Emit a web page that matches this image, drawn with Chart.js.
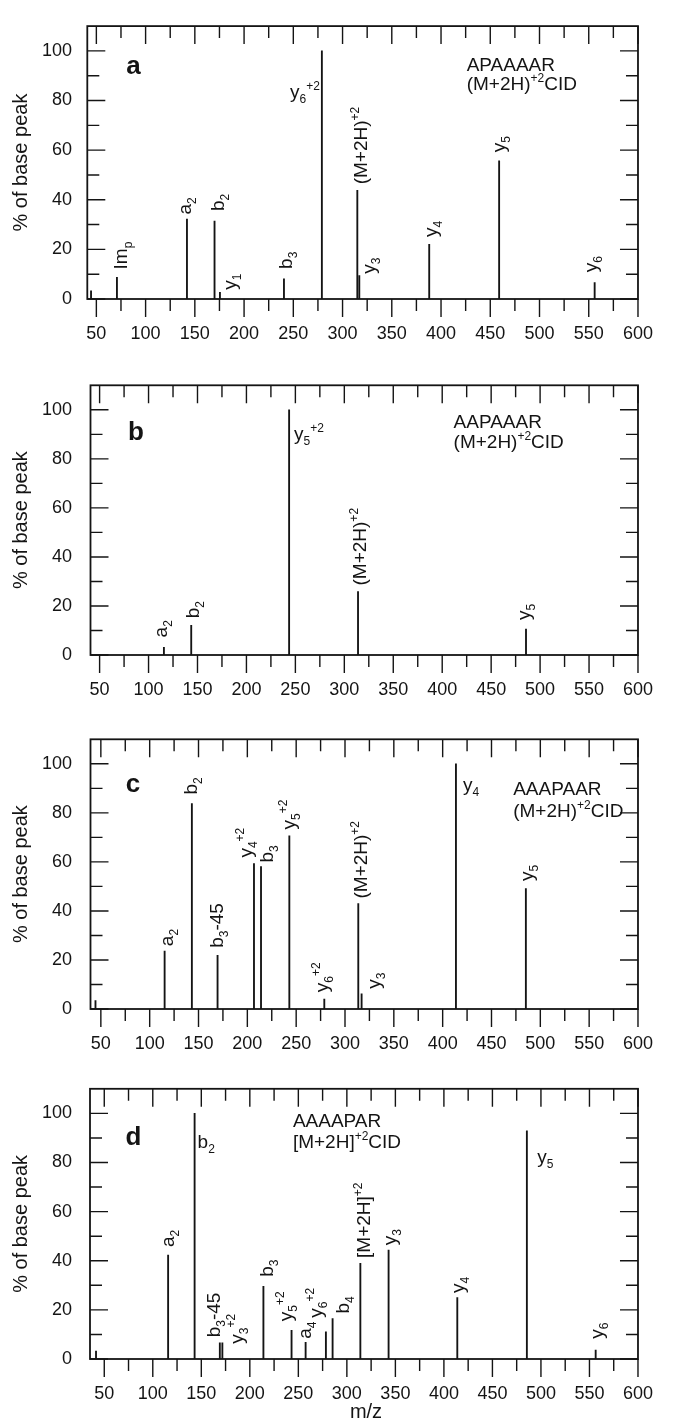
<!DOCTYPE html>
<html>
<head>
<meta charset="utf-8">
<title>CID spectra</title>
<script src="https://cdn.jsdelivr.net/npm/chart.js@4.4.0/dist/chart.umd.min.js"></script>
<style>
  html, body { margin: 0; padding: 0; background: #fff; }
  #wrap { position: relative; width: 677px; height: 1423px; overflow: hidden; }
  .panel { position: absolute; left: 0; width: 677px; }
</style>
</head>
<body>
<div id="wrap">
  <div class="panel" style="top:0;height:356px"><canvas id="spec-a"></canvas></div>
  <div class="panel" style="top:356px;height:354px"><canvas id="spec-b"></canvas></div>
  <div class="panel" style="top:710px;height:350px"><canvas id="spec-c"></canvas></div>
  <div class="panel" style="top:1060px;height:363px"><canvas id="spec-d"></canvas></div>
</div>
<script>
// ---- AXIS TICKS ----
const X_TICKS = [50, 100, 150, 200, 250, 300, 350, 400, 450, 500, 550, 600];
const X_MINOR = [75, 125, 175, 225, 275, 325, 375, 425, 475, 525, 575];
const Y_TICKS = [0, 20, 40, 60, 80, 100];
const Y_MINOR = [10, 30, 50, 70, 90];

// ---- PANEL a : APAAAAR ----
const A_MZ  = [44.6, 70.9, 142, 170, 175.5, 240.5, 279, 315, 317, 388, 459, 556];
const A_INT = [3.3, 8.7, 32.2, 31.4, 2.7, 8.1, 100, 43.8, 9.4, 22, 55.7, 6.6];
const A_LABELS = [
  { p: 1,  t: 'Im_p', dx: 4, dy: 8 },
  { p: 2,  t: 'a_2', dx: -1, dy: 4.5 },
  { p: 3,  t: 'b_2', dx: 2.5, dy: 10 },
  { p: 4,  t: 'y_1', dx: 11.5, dy: 2.5 },
  { p: 5,  t: 'b_3', dx: 1.5, dy: 10 },
  { p: 6,  t: 'y_6^{+2}', h: 'right', dx: -2, y: 81 },
  { p: 7,  t: '(M+2H)^{+2}', dx: 3, dy: 6 },
  { p: 8,  t: 'y_3', dx: 11, dy: 2 },
  { p: 9,  t: 'y_4', dx: 2.5, dy: 7.5 },
  { p: 10, t: 'y_5', dx: 1, dy: 8.5 },
  { p: 11, t: 'y_6', dx: -2.5, dy: 10.5 },
];

// ---- PANEL b : AAPAAAR ----
const B_MZ  = [115.7, 143.6, 243.6, 314, 485.6];
const B_INT = [3.1, 12.1, 100, 25.9, 10.6];
const B_LABELS = [
  { p: 0, t: 'a_2', dx: -2, dy: 10 },
  { p: 1, t: 'b_2', dx: 1, dy: 7 },
  { p: 2, t: 'y_5^{+2}', h: 'left', dx: 5, y: 87.6 },
  { p: 3, t: '(M+2H)^{+2}', dx: 1, dy: 6 },
  { p: 4, t: 'y_5', dx: -1.5, dy: 9 },
];

// ---- PANEL c : AAAPAAR ----
const C_MZ  = [44.5, 115.3, 143.2, 169.5, 206.8, 214, 243, 278.8, 313.6, 317, 413.6, 485.2];
const C_INT = [3.4, 23.6, 83.8, 21.9, 59.3, 58.1, 70.6, 4.0, 43, 6.2, 100, 49.1];
const C_LABELS = [
  { p: 1,  t: 'a_2', dx: 3, dy: 5 },
  { p: 2,  t: 'b_2', dx: -1, dy: 9 },
  { p: 3,  t: 'b_3-45', dx: -1, dy: 7.5 },
  { p: 4,  t: 'y_4^{+2}', dx: -7, dy: 6 },
  { p: 5,  t: 'b_3', dx: 5.5, dy: 4 },
  { p: 6,  t: 'y_5^{+2}', dx: 0.5, dy: 6.5 },
  { p: 7,  t: 'y_6^{+2}', dx: -1.5, dy: 7 },
  { p: 8,  t: '(M+2H)^{+2}', dx: 2, dy: 5 },
  { p: 9,  t: 'y_3', dx: 13.5, dy: 5 },
  { p: 10, t: 'y_4', h: 'left', dx: 7, y: 88.8 },
  { p: 11, t: 'y_5', dx: 2, dy: 7.5 },
];

// ---- PANEL d : AAAAPAR ----
const D_MZ  = [41.5, 115.8, 143.1, 169.1, 171.7, 214, 243, 257.5, 278.4, 285.3, 313.9, 343, 413.8, 485.5, 556.4];
const D_INT = [3.2, 42.3, 100, 6.6, 6.6, 29.6, 11.7, 6.8, 11.1, 16.5, 38.9, 44.3, 25, 92.9, 3.6];
const D_LABELS = [
  { p: 1,  t: 'a_2', dx: 1, dy: 8 },
  { p: 2,  t: 'b_2', h: 'left', dx: 3, y: 86.1 },
  { p: 3,  t: 'b_3-45', dx: -6, dy: 5.5 },
  { p: 4,  t: 'y_3^{+2}', dx: 15.5, dy: -1 },
  { p: 5,  t: 'b_3', dx: 3, dy: 9.5 },
  { p: 6,  t: 'y_5^{+2}', dx: -4.5, dy: 9 },
  { p: 7,  t: 'a_4', dx: 0, dy: 3.5 },
  { p: 8,  t: 'y_6^{+2}', dx: -8.5, dy: 14 },
  { p: 9,  t: 'b_4', dx: 10, dy: 5 },
  { p: 10, t: '[M+2H]^{+2}', dx: 3.5, dy: 5.5 },
  { p: 11, t: 'y_3', dx: 2.5, dy: 5 },
  { p: 12, t: 'y_4', dx: 2, dy: 4.5 },
  { p: 13, t: 'y_5', h: 'left', dx: 10.5, y: 79.7 },
  { p: 14, t: 'y_6', dx: 2, dy: 11.5 },
];

// ---- PANEL LAYOUT ----
const PANELS = [
  { id: 'spec-a', h: 356, left: 87.3, right: 656.7, xmin: 40.8, mz: A_MZ, inten: A_INT, labels: A_LABELS,
    letter: 'a', letterAt: [80.3, 90.6], seq: ['APAAAAR', '(M+2H)^{+2}CID'], seqAt: [426, 91.9, 84.2] },
  { id: 'spec-b', h: 354, left: 90.5, right: 659.5, xmin: 40.7, mz: B_MZ, inten: B_INT, labels: B_LABELS,
    letter: 'b', letterAt: [78.9, 87.6], seq: ['AAPAAAR', '(M+2H)^{+2}CID'], seqAt: [411.6, 92.6, 84.4] },
  { id: 'spec-c', h: 350, left: 90.5, right: 661, xmin: 39.4, mz: C_MZ, inten: C_INT, labels: C_LABELS,
    letter: 'c', letterAt: [75.5, 88.4], seq: ['AAAPAAR', '(M+2H)^{+2}CID'], seqAt: [472.2, 87.2, 78.4] },
  { id: 'spec-d', h: 363, left: 90, right: 661.7, xmin: 35.3, mz: D_MZ, inten: D_INT, labels: D_LABELS,
    letter: 'd', letterAt: [72, 87.2], seq: ['AAAAPAR', '[M+2H]^{+2}CID'], seqAt: [244.4, 94.5, 86.1], xTitle: 'm/z' },
];

const FONT = '"Liberation Sans", Arial, Helvetica, sans-serif';
const MAIN_FONT  = '19px ' + FONT;
const SMALL_FONT = '12px ' + FONT;
const INK = '#141414';

// ---- RICH TEXT (sub/superscripts) ----
function parseRich(str) {
  const parts = [];
  let buf = '', i = 0;
  while (i < str.length) {
    const c = str[i];
    if (c === '_' || c === '^') {
      if (buf) { parts.push({ s: buf, k: 'n' }); buf = ''; }
      let s;
      if (str[i + 1] === '{') { const j = str.indexOf('}', i); s = str.slice(i + 2, j); i = j + 1; }
      else { s = str[i + 1]; i += 2; }
      parts.push({ s, k: c === '_' ? 'sub' : 'sup' });
    } else { buf += c; i++; }
  }
  if (buf) parts.push({ s: buf, k: 'n' });
  return parts;
}

function richWidth(ctx, parts) {
  let w = 0;
  parts.forEach(p => { ctx.font = p.k === 'n' ? MAIN_FONT : SMALL_FONT; w += ctx.measureText(p.s).width; });
  return w;
}

function drawRich(ctx, parts, x, y) {
  let cx = x;
  parts.forEach(p => {
    ctx.font = p.k === 'n' ? MAIN_FONT : SMALL_FONT;
    const off = p.k === 'sub' ? 5 : p.k === 'sup' ? -8 : 0;
    ctx.fillText(p.s, cx, y + off);
    cx += ctx.measureText(p.s).width;
  });
}

// ---- FRAME, TICKS, ANNOTATIONS ----
function makeSpecPlugin(panel) {
  return {
    id: 'specDecor',
    afterDatasetsDraw(chart) {
      const ctx = chart.ctx;
      const xs = chart.scales.x, ys = chart.scales.y;
      const a = chart.chartArea;
      ctx.save();
      ctx.strokeStyle = INK;
      ctx.fillStyle = INK;

      // tick marks: inward on top/left/right, outward on bottom
      ctx.lineWidth = 1.4;
      ctx.beginPath();
      const xTick = (v, len) => {
        const px = xs.getPixelForValue(v);
        ctx.moveTo(px, a.top); ctx.lineTo(px, a.top + len);
        ctx.moveTo(px, a.bottom); ctx.lineTo(px, a.bottom + len);
      };
      const yTick = (v, len) => {
        const py = ys.getPixelForValue(v);
        ctx.moveTo(a.left, py); ctx.lineTo(a.left + len, py);
        ctx.moveTo(a.right, py); ctx.lineTo(a.right - len, py);
      };
      X_TICKS.forEach(v => xTick(v, 18));
      X_MINOR.forEach(v => xTick(v, 12));
      Y_TICKS.forEach(v => yTick(v, 18));
      Y_MINOR.forEach(v => yTick(v, 12));
      ctx.stroke();

      // frame
      ctx.lineWidth = 1.8;
      ctx.strokeRect(a.left, a.top, a.right - a.left, a.bottom - a.top);

      // peak labels
      ctx.textAlign = 'left';
      ctx.textBaseline = 'alphabetic';
      panel.labels.forEach(L => {
        const parts = parseRich(L.t);
        const px = xs.getPixelForValue(panel.mz[L.p]);
        if (L.h) {
          const w = richWidth(ctx, parts);
          const x0 = L.h === 'right' ? px + L.dx - w : px + L.dx;
          drawRich(ctx, parts, x0, ys.getPixelForValue(L.y));
        } else {
          ctx.font = MAIN_FONT;
          const asc = ctx.measureText(parts[0].s[0]).actualBoundingBoxAscent;
          const top = ys.getPixelForValue(panel.inten[L.p]);
          ctx.save();
          ctx.translate(px + L.dx + asc / 2, top - L.dy);
          ctx.rotate(-Math.PI / 2);
          drawRich(ctx, parts, 0, 0);
          ctx.restore();
        }
      });

      // panel letter
      ctx.font = 'bold 26px ' + FONT;
      ctx.fillText(panel.letter, xs.getPixelForValue(panel.letterAt[0]), ys.getPixelForValue(panel.letterAt[1]));

      // sequence / experiment text
      const sx = xs.getPixelForValue(panel.seqAt[0]);
      drawRich(ctx, parseRich(panel.seq[0]), sx, ys.getPixelForValue(panel.seqAt[1]));
      drawRich(ctx, parseRich(panel.seq[1]), sx, ys.getPixelForValue(panel.seqAt[2]));

      // y axis title
      ctx.save();
      ctx.font = '20px ' + FONT;
      ctx.textAlign = 'center';
      ctx.translate(27, (a.top + a.bottom) / 2);
      ctx.rotate(-Math.PI / 2);
      ctx.fillText('% of base peak', 0, 0);
      ctx.restore();

      // x axis title (bottom panel only)
      if (panel.xTitle) {
        ctx.font = '20px ' + FONT;
        ctx.textAlign = 'center';
        ctx.fillText(panel.xTitle, (a.left + a.right) / 2 + 2, 358);
      }
      ctx.restore();
    }
  };
}

// ---- BUILD CHARTS ----
function renderPanel(panel) {
  const canvas = document.getElementById(panel.id);
  const tickFont = { family: FONT, size: 18 };
  return new Chart(canvas, {
    type: 'bar',
    data: {
      datasets: [{
        data: panel.mz.map((x, i) => ({ x, y: panel.inten[i] })),
        backgroundColor: INK,
        borderWidth: 0,
        barThickness: 1.2,
      }]
    },
    options: {
      responsive: true,
      maintainAspectRatio: false,
      animation: false,
      layout: { padding: { top: 14, left: 0, right: 677 - panel.right, bottom: 0 } },
      plugins: { legend: { display: false }, tooltip: { enabled: false } },
      scales: {
        x: {
          type: 'linear',
          min: panel.xmin, max: 600,
          offset: false,
          grid: { display: false, drawTicks: false },
          border: { display: false },
          ticks: { color: INK, font: tickFont, padding: 24, maxRotation: 0, autoSkip: false },
          afterBuildTicks: s => { s.ticks = X_TICKS.map(v => ({ value: v })); },
          afterFit: s => { s.height = panel.h - 299; },
        },
        y: {
          min: 0, max: 110,
          grid: { display: false, drawTicks: false },
          border: { display: false },
          ticks: { color: INK, font: tickFont, padding: panel.left - 72, autoSkip: false },
          afterBuildTicks: s => { s.ticks = Y_TICKS.map(v => ({ value: v })); },
          afterFit: s => { s.width = panel.left; },
        }
      }
    },
    plugins: [makeSpecPlugin(panel)]
  });
}

PANELS.forEach(renderPanel);
</script>
</body>
</html>
